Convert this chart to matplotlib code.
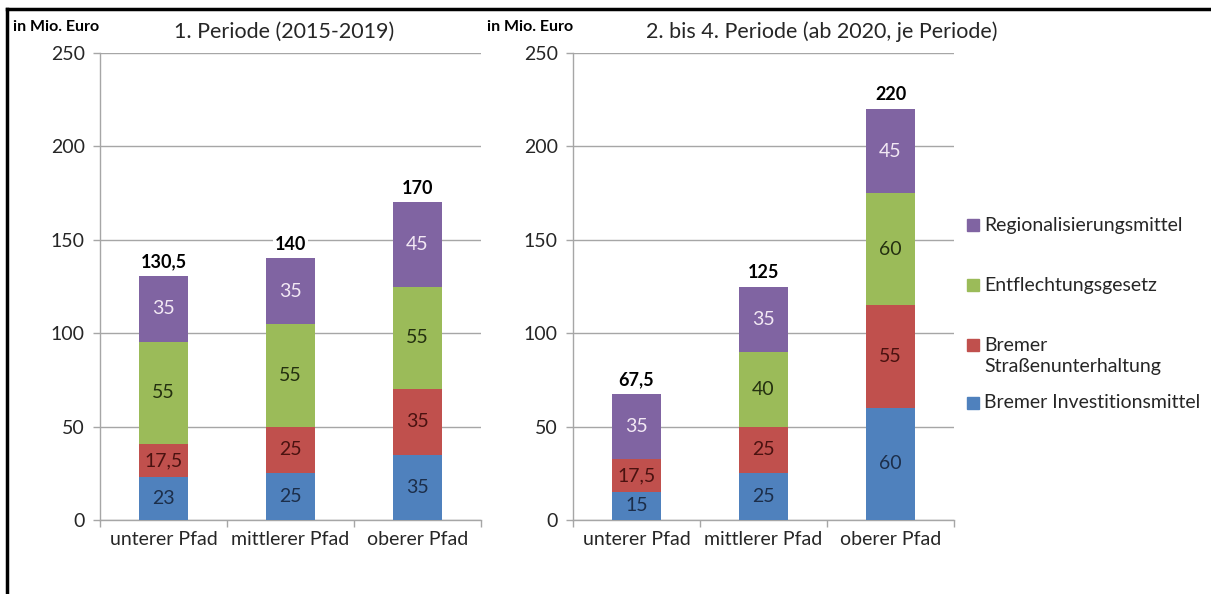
import matplotlib
matplotlib.use('Agg')
import matplotlib.pyplot as plt
from matplotlib.lines import Line2D
from matplotlib.patches import Rectangle

plt.rcParams['font.family'] = ['Lato', 'DejaVu Sans']

# Daten (in Mio. Euro)
categories = ['unterer Pfad', 'mittlerer Pfad', 'oberer Pfad']
series_names = ['Bremer Investitionsmittel', 'Bremer\nStraßenunterhaltung',
                'Entflechtungsgesetz', 'Regionalisierungsmittel']

p1_invest = [23, 25, 35]
p1_strasse = [17.5, 25, 35]
p1_entfl = [55, 55, 55]
p1_region = [35, 35, 45]

p2_invest = [15, 25, 60]
p2_strasse = [17.5, 25, 55]
p2_entfl = [0, 40, 60]
p2_region = [35, 35, 45]

titles = ['1. Periode (2015-2019)', '2. bis 4. Periode (ab 2020, je Periode)']

colors = ['#4F81BD', '#C0504D', '#9BBB59', '#8064A2']
label_colors = ['#1C2E4A', '#4A1210', '#243010', '#F2E8F4']
grid_col = '#A6A6A6'
text_col = '#262626'


def fmt(v):
    s = f'{v:g}'
    return s.replace('.', ',')


def draw_panel(ax, stacks):
    x = list(range(len(categories)))
    bottom = [0] * len(categories)
    for vals, c, lc in zip(stacks, colors, label_colors):
        bars = ax.bar(x, vals, width=0.39, bottom=bottom, color=c, zorder=3)
        for b, v in zip(bars, vals):
            if v > 0:
                ax.text(b.get_x() + b.get_width() / 2, b.get_y() + v / 2, fmt(v),
                        ha='center', va='center', fontsize=14, color=lc, zorder=4)
        bottom = [bo + v for bo, v in zip(bottom, vals)]
    for xi, tot in zip(x, bottom):
        ax.annotate(fmt(tot), (xi, tot), xytext=(0, 4), textcoords='offset points',
                    ha='center', va='bottom', fontsize=13, fontweight='bold', color='black',
                    bbox=dict(facecolor='white', edgecolor='none', pad=1.5), zorder=5)

    ax.set_xlim(-0.5, len(categories) - 0.5)
    ax.set_ylim(0, 250)
    ax.set_yticks(range(0, 251, 50))
    ax.set_xticks(x)
    ax.set_xticklabels(categories, fontsize=14, color=text_col)
    ax.set_xticks([i - 0.5 for i in range(len(categories) + 1)], minor=True)
    ax.tick_params(axis='x', which='major', length=0, pad=8)
    ax.tick_params(axis='x', which='minor', length=5, color=grid_col, width=1)
    ax.tick_params(axis='y', length=5, color=grid_col, width=1, labelsize=14,
                   labelcolor=text_col, pad=6)
    ax.yaxis.grid(True, color=grid_col, linewidth=1, zorder=0)
    ax.set_axisbelow(True)
    for side in ['top', 'right']:
        ax.spines[side].set_visible(False)
    for side in ['left', 'bottom']:
        ax.spines[side].set_color(grid_col)
        ax.spines[side].set_linewidth(1)


fig = plt.figure(figsize=(12.11, 5.94), dpi=100)
W, H = 1211, 594
ax1 = fig.add_axes([100 / W, 74 / H, 381 / W, 467 / H])
ax2 = fig.add_axes([573 / W, 74 / H, 381 / W, 467 / H])

draw_panel(ax1, [p1_invest, p1_strasse, p1_entfl, p1_region])
draw_panel(ax2, [p2_invest, p2_strasse, p2_entfl, p2_region])

# Titel und Einheiten
fig.text(284 / W, 1 - 32 / H, titles[0], ha='center', va='center', fontsize=15.5, color=text_col)
fig.text(822 / W, 1 - 32 / H, titles[1], ha='center', va='center', fontsize=15.5, color=text_col)
fig.text(13 / W, 1 - 27 / H, 'in Mio. Euro', ha='left', va='center', fontsize=11.5,
         fontweight='bold', color='black')
fig.text(487 / W, 1 - 27 / H, 'in Mio. Euro', ha='left', va='center', fontsize=11.5,
         fontweight='bold', color='black')

# Legende (oben violett, unten blau)
legend_y = [225, 285, 356, 403]
for name, c, yy in zip(series_names[::-1], colors[::-1], legend_y):
    n_lines = name.count('\n') + 1
    top_line_y = yy - (n_lines - 1) * 11.5
    fig.patches.append(Rectangle((967 / W, 1 - (top_line_y + 6) / H), 12 / W, 12 / H,
                                 transform=fig.transFigure, color=c, figure=fig))
    fig.text(984 / W, 1 - yy / H, name, ha='left', va='center', fontsize=14,
             color=text_col, linespacing=1.25)

# Rahmen
fig.add_artist(Line2D([7 / W, 1], [1 - 9 / H, 1 - 9 / H], transform=fig.transFigure,
                      color='black', linewidth=2.5))
fig.add_artist(Line2D([7 / W, 7 / W], [0, 1 - 9 / H], transform=fig.transFigure,
                      color='black', linewidth=2.5))

fig.savefig('out.png', dpi=100, facecolor='white')
